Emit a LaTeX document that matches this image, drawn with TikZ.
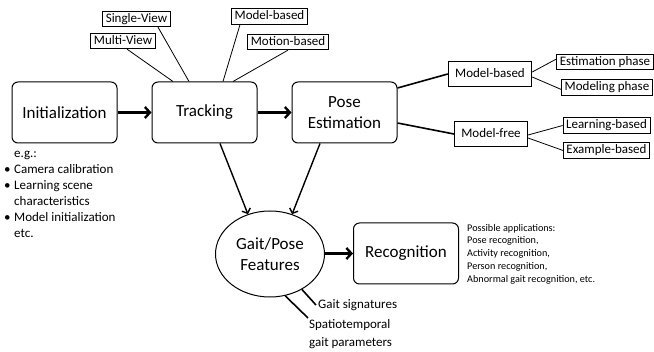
\documentclass[tikz,border=0pt]{standalone}
\usepackage{fontspec}
\setmainfont{Carlito}
\usetikzlibrary{positioning,arrows.meta,shapes.geometric}

\newcommand\itm{\makebox[12pt][l]{\hspace{2pt}\textbullet}}

\begin{document}
\begin{tikzpicture}[x=1pt,y=-1pt,node distance=140pt,on grid,
  stage/.style={draw,rounded corners=6pt,line width=1pt,minimum width=105pt,
    minimum height=61pt,align=center,font=\fontsize{17}{21}\selectfont},
  tag/.style={draw,line width=0.8pt,inner xsep=3pt,inner ysep=1.5pt,
    text height=9.5pt,text depth=3pt,font=\fontsize{13}{15}\selectfont},
  branch/.style={tag,inner xsep=7pt,minimum height=25pt},
  note/.style={inner sep=0pt,align=left,anchor=north west},
  link/.style={line width=0.8pt},
  thick link/.style={line width=1.6pt},
  big arrow/.style={line width=2.4pt,-{Straight Barb[length=5pt,width=11pt]}},
  down arrow/.style={line width=1.4pt,-{Straight Barb[length=4pt,width=9pt]}}]
  \useasboundingbox (0,0) rectangle (654,352);

  % main chain
  \node[stage] (init) at (64.5,112.5) {Initialization};
  \node[stage] (trk)  [right=of init] {Tracking};
  \node[stage] (pose) [right=of trk]  {Pose\\Estimation};
  \node[ellipse,draw,line width=1pt,minimum width=109pt,minimum height=86pt,
    inner sep=0pt,align=center,font=\fontsize{17}{21}\selectfont]
    (gait) at (270,254) {Gait/Pose\\Features};
  \node[stage] (rec) at (406,253.5) {Recognition};

  % tracking kinds
  \node[tag] (sv)  at (136.5,19)  {Single-View};
  \node[tag] (mv)  at (123,41)    {Multi-View};
  \node[tag] (mbt) at (269.5,16.5) {Model-based};
  \node[tag] (mob) at (288,42)    {Motion-based};

  % pose estimation kinds
  \node[branch] (mb) at (490,74)    {Model-based};
  \node[branch] (mf) at (491,134)   {Model-free};
  \node[tag]    (ep) at (605,62)    {Estimation phase};
  \node[tag]    (mp) at (607,87.5)  {Modeling phase};
  \node[tag]    (lb) at (606.5,125.5) {Learning-based};
  \node[tag]    (xb) at (606.5,150.5) {Example-based};

  % notes
  \node[note,font=\fontsize{13}{16}\selectfont] (eg) at (2,151)
    {\hspace*{12pt}e.g.:\\
     \itm Camera calibration\\
     \itm Learning scene\\
     \hspace*{12pt}characteristics\\
     \itm Model initialization\\
     \hspace*{12pt}etc.};
  \node[note,font=\fontsize{10.2}{12.7}\selectfont] (apps) at (467,224)
    {Possible applications:\\
     Pose recognition,\\
     Activity recognition,\\
     Person recognition,\\
     Abnormal gait recognition, etc.};
  \node[inner sep=2pt,anchor=west,font=\fontsize{13}{15}\selectfont]
    (gsig) at (316,305) {Gait signatures};
  \node[note,inner sep=1pt,font=\fontsize{13}{18}\selectfont] (spt) at (308,318)
    {Spatiotemporal\\gait parameters};

  % arrows
  \draw[big arrow] (init) -- (trk);
  \draw[big arrow] (trk) -- (pose);
  \draw[big arrow] (gait.east |- rec) -- (rec);
  \draw[down arrow] ([xshift=15.5pt]trk.south) -- (gait.119);
  \draw[down arrow] ([xshift=-24.5pt]pose.south) -- (gait.61);

  % links
  \draw[link] ([xshift=4pt]mv.south) -- ([xshift=-31.5pt]trk.north);
  \draw[link] ([xshift=21.5pt]sv.south) -- ([xshift=-15.5pt]trk.north);
  \draw[link] ([xshift=-29.5pt]mbt.south) -- ([xshift=18.5pt]trk.north);
  \draw[link] (mob.south) -- ([xshift=28.5pt]trk.north);
  \draw[thick link] ([yshift=24.5pt]pose.east) -- (mb.west);
  \draw[thick link] ([yshift=-10.5pt]pose.east) -- (mf.west);
  \draw[link] ([yshift=2pt]mb.east) -- ([yshift=3pt]ep.west);
  \draw[link] ([yshift=-3pt]mb.east) -- ([yshift=-2pt]mp.west);
  \draw[link] ([yshift=-1pt]mf.east) -- (lb.west);
  \draw[link] ([yshift=-4pt]mf.east) -- (xb.west);
  \draw[thick link] (gait.-48) -- (gsig.west);
  \draw[thick link] (gait.-70) -- (spt.north west);
\end{tikzpicture}
\end{document}
